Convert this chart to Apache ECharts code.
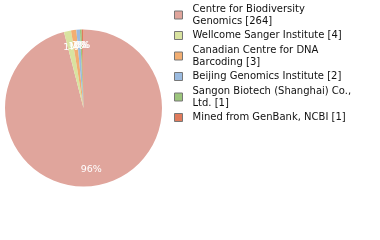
<!DOCTYPE html>
<html><head><meta charset="utf-8">
<script src="https://cdn.jsdelivr.net/npm/echarts@6/dist/echarts.min.js"></script>
<style>html,body{margin:0;padding:0;background:#fff}#c{width:380px;height:240px}</style>
</head><body><div id="c"></div>
<script>
var categories = ["Centre for Biodiversity Genomics", "Wellcome Sanger Institute", "Canadian Centre for DNA Barcoding", "Beijing Genomics Institute", "Sangon Biotech (Shanghai) Co., Ltd.", "Mined from GenBank, NCBI"];
var legendLabels = ["Centre for Biodiversity\nGenomics [264]", "Wellcome Sanger Institute [4]", "Canadian Centre for DNA\nBarcoding [3]", "Beijing Genomics Institute [2]", "Sangon Biotech (Shanghai) Co.,\nLtd. [1]", "Mined from GenBank, NCBI [1]"];
var values = [264, 4, 3, 2, 1, 1];
var colors = ["#e0a59c", "#d9e3a0", "#f2ae72", "#9bbbe0", "#9cc57c", "#e07b5c"];

var data = categories.map(function(c, i){ return {name: c, value: values[i], itemStyle:{color: colors[i]}}; });
var labelMap = {}; categories.forEach(function(c,i){ labelMap[c] = legendLabels[i]; });
var chart = echarts.init(document.getElementById('c'), null, {renderer:'canvas'});
chart.setOption({
  animation: false,
  legend: {
    orient: 'vertical', left: 174, top: 3, padding: 0,
    itemWidth: 8, itemHeight: 8, itemGap: 2.5,
    icon: 'rect',
    itemStyle: {borderColor: '#777', borderWidth: 1},
    textStyle: {fontFamily: 'DejaVu Sans', fontSize: 10, color: '#111', lineHeight: 12, padding: [0,0,0,5]},
    formatter: function(n){ return labelMap[n]; },
    data: categories
  },
  series: [{
    type: 'pie', center: [83.5, 108], radius: [0, 78.5],
    startAngle: 90, clockwise: true, silent: true,
    label: {show: false}, labelLine: {show: false},
    data: data
  },{
    type: 'pie', center: [83.5, 108], radius: [0, 118.4],
    startAngle: 90, clockwise: true, silent: true,
    avoidLabelOverlap: false,
    labelLayout: {hideOverlap: false},
    itemStyle: {color: 'rgba(0,0,0,0)'},
    label: {show: true, position: 'inside', color: '#fff', fontFamily: 'DejaVu Sans', fontSize: 9.5,
      formatter: function(p){ return Math.round(p.percent) + '%'; }},
    labelLine: {show: false},
    data: categories.map(function(c, i){ return {name: c, value: values[i], itemStyle:{color:'rgba(0,0,0,0)'}}; })
  }]
});
</script></body></html>
